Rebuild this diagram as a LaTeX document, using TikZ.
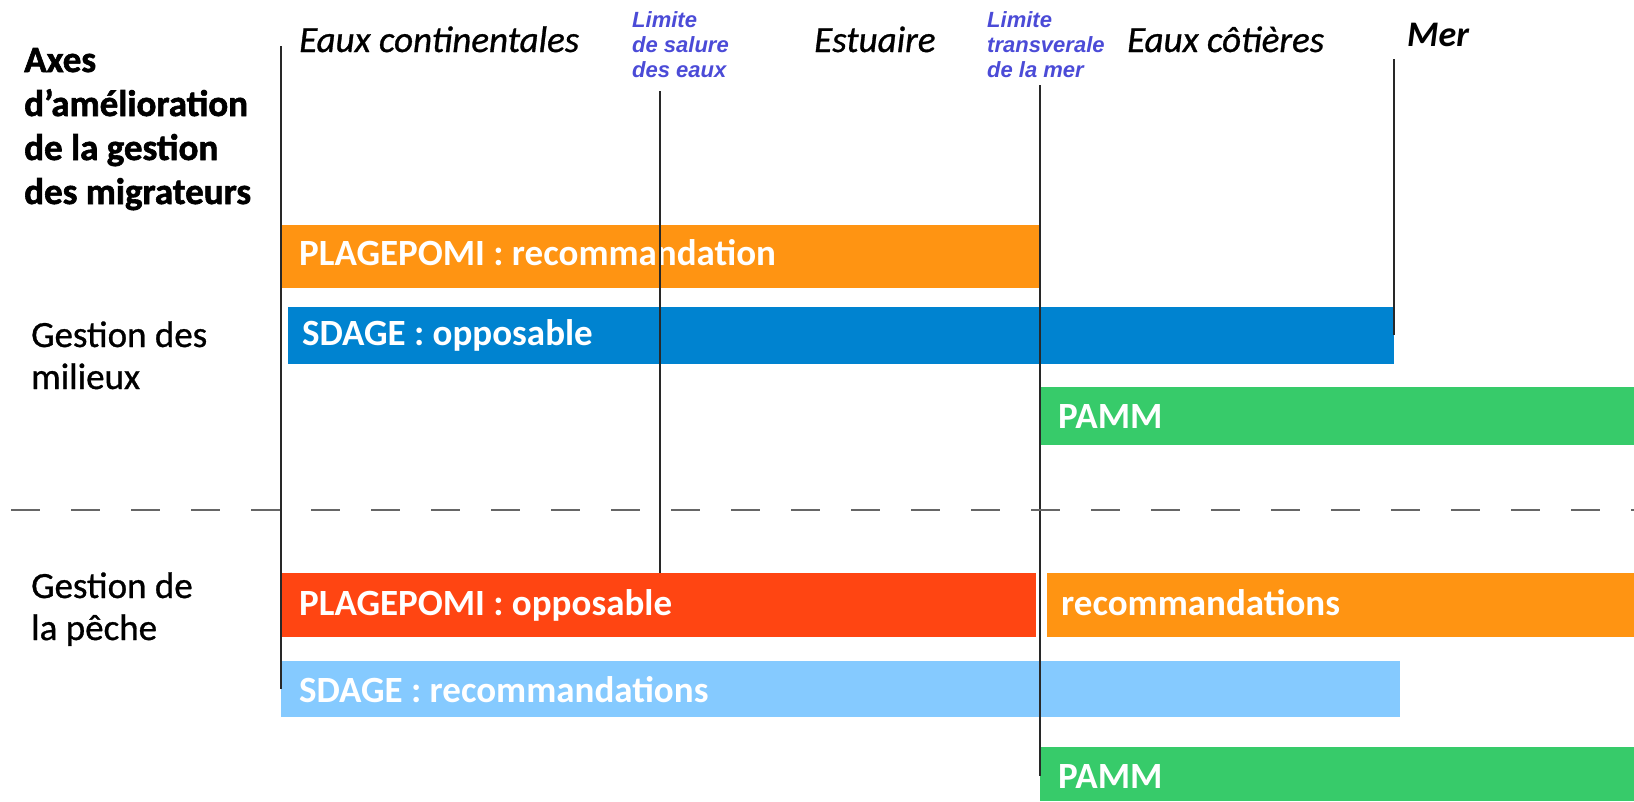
\documentclass[tikz,border=0pt]{standalone}
\usepackage{fontspec}
\setmainfont{Carlito}
\newfontfamily\medfont{Carlito}[FakeBold=0.8]
\newfontfamily\heavyfont{Carlito}[FakeBold=1.6]
\newfontfamily\limfont{Liberation Sans}
\definecolor{cOrange}{RGB}{255,148,18}
\definecolor{cBlue}{RGB}{0,131,208}
\definecolor{cGreen}{RGB}{55,203,106}
\definecolor{cRed}{RGB}{255,69,18}
\definecolor{cLight}{RGB}{133,202,255}
\definecolor{cLim}{RGB}{75,75,215}
\definecolor{cLine}{RGB}{40,40,40}
\tikzset{
  barlabel/.style={anchor=base west,inner sep=0pt,text=white,font=\fontsize{37}{44}\selectfont\bfseries},
  sidelabel/.style={anchor=base west,inner sep=0pt,align=left,font=\medfont\fontsize{37}{42}\selectfont},
  zonelabel/.style={anchor=base west,inner sep=0pt,font=\medfont\fontsize{37}{40}\selectfont\itshape},
  limlabel/.style={anchor=base west,inner sep=0pt,align=left,text=cLim,font=\limfont\fontsize{22}{25}\selectfont\bfseries\itshape},
  sepline/.style={cLine,line width=1.8pt},
}
\begin{document}
\begin{tikzpicture}[x=1pt,y=-1pt]
\useasboundingbox (0,0) rectangle (1634,801);
% bars
\fill[cOrange] (281,225) rectangle (1040,288);
\fill[cBlue] (288,307) rectangle (1394,364);
\fill[cGreen] (1040,387) rectangle (1634,445);
\fill[cRed] (281,573) rectangle (1036,637);
\fill[cOrange] (1047,573) rectangle (1634,637);
\fill[cLight] (281,661) rectangle (1400,717);
\fill[cGreen] (1040,747) rectangle (1634,801);
% bar labels
\node[barlabel] (b1) at (299,265) {PLAGEPOMI : recommandation};
\node[barlabel] (b2) at (302,345) {SDAGE : opposable};
\node[barlabel] (b3) at (1058,428) {PAMM};
\node[barlabel] (b4) at (299,615) {PLAGEPOMI : opposable};
\node[barlabel] (b5) at (1061,615) {recommandations};
\node[barlabel] (b6) at (299,702) {SDAGE : recommandations};
\node[barlabel] (b7) at (1058,788) {PAMM};
% vertical boundaries
\coordinate (v1t) at (281,46); \coordinate (v1b) at (281,689);
\coordinate (v2t) at (660,91); \coordinate (v2b) at (660,573);
\coordinate (v3t) at (1040,85); \coordinate (v3b) at (1040,776);
\coordinate (v4t) at (1394,59); \coordinate (v4b) at (1394,335);
\draw[sepline] (v1t) -- (v1b);
\draw[sepline] (v2t) -- (v2b);
\draw[sepline] (v3t) -- (v3b);
\draw[sepline] (v4t) -- (v4b);
% dashed separator
\coordinate (dl) at (11,510); \coordinate (dr) at (1634,510);
\draw[gray!80!black,line width=1.8pt,dash pattern=on 29pt off 31pt] (dl) -- (dr);
% zone labels
\node[zonelabel] (z1) at (299,52) {Eaux continentales};
\node[zonelabel] (z2) at (814,52) {Estuaire};
\node[zonelabel] (z3) at (1127,52) {Eaux côtières};
\node[zonelabel,font=\fontsize{36}{40}\selectfont\bfseries\itshape] (z4) at (1407,46) {Mer};
\node[limlabel] (l1) at (632,77) {Limite\\de salure\\des eaux};
\node[limlabel] (l2) at (987,77) {Limite\\transverale\\de la mer};
% side labels
\node[sidelabel,font=\heavyfont\fontsize{37}{44}\selectfont\bfseries] (s1) at (24,204) {Axes\\d’amélioration\\de la gestion\\des migrateurs};
\node[sidelabel] (s2) at (31,389) {Gestion des\\milieux};
\node[sidelabel] (s3) at (31,640) {Gestion de\\la pêche};
\end{tikzpicture}
\end{document}
